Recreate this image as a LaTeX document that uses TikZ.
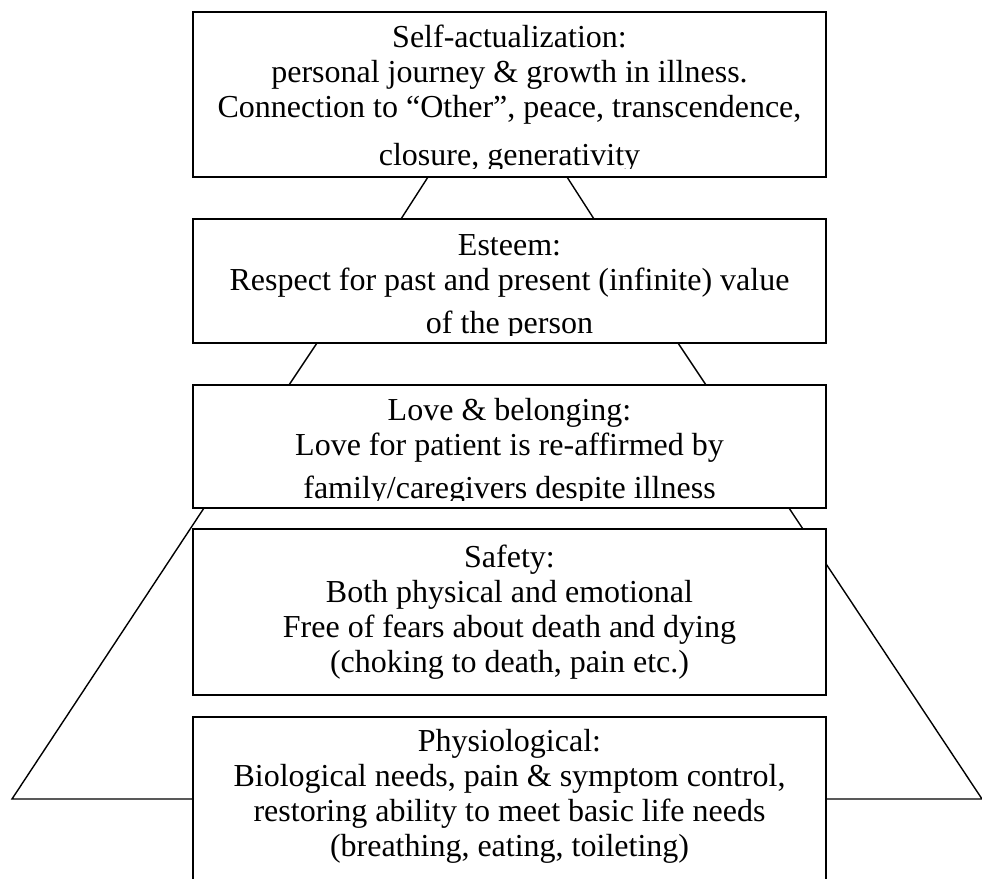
\documentclass[tikz,border=0pt]{standalone}
\usepackage{fontspec}
\setmainfont{Liberation Serif}
\begin{document}
\begin{tikzpicture}[x=1pt,y=-1pt,
  box/.style={draw, line width=1.8pt, fill=white, inner sep=0pt, outer sep=0pt, minimum width=633pt},
  edge/.style={line width=1.4pt},
  txt/.style={anchor=base, inner sep=0pt, font=\fontsize{32}{36}\selectfont}]
\useasboundingbox (0,0) rectangle (982,878);
\fill[white] (0,0) rectangle (982,878);
% boxes (geometry only)
\node[box, minimum height=165pt] (b1) at (509.5,94.5) {};
\node[box, minimum height=124pt] (b2) at (509.5,281) {};
\node[box, minimum height=123pt] (b3) at (509.5,446.5) {};
% big trapezoid behind lower boxes
\coordinate (bl) at (12,799);
\coordinate (br) at (982,799);
\draw[edge, line join=miter] ([xshift=279.5pt]b3.south) -- (br) -- (bl) -- ([xshift=-305.5pt]b3.south);
\node[box, minimum height=166pt] (b4) at (509.5,612) {};
\node[box, minimum height=170pt] (b5) at (509.5,802) {};
% connectors between upper boxes
\draw[edge] ([xshift=-81.5pt]b1.south) -- ([xshift=-108.5pt]b2.north);
\draw[edge] ([xshift=57.5pt]b1.south) -- ([xshift=84.5pt]b2.north);
\draw[edge] ([xshift=-192.5pt]b2.south) -- ([xshift=-220.5pt]b3.north);
\draw[edge] ([xshift=168.5pt]b2.south) -- ([xshift=196.5pt]b3.north);
% texts
\begin{scope}
\clip (193,12) rectangle (826,168);
\node[txt] (t1a) at (509.5,47) {Self-actualization:};
\node[txt] (t1b) at (509.5,82) {personal journey \& growth in illness.};
\node[txt] (t1c) at (509.5,117) {Connection to “Other”, peace, transcendence,};
\node[txt] (t1d) at (509.5,165) {closure, generativity};
\end{scope}
\begin{scope}
\clip (193,219) rectangle (826,335);
\node[txt] (t2a) at (509.5,255) {Esteem:};
\node[txt] (t2b) at (509.5,290) {Respect for past and present (infinite) value};
\node[txt] (t2c) at (509.5,333) {of the person};
\end{scope}
\begin{scope}
\clip (193,385) rectangle (826,500);
\node[txt] (t3a) at (509.5,420) {Love \& belonging:};
\node[txt] (t3b) at (509.5,455) {Love for patient is re-affirmed by};
\node[txt] (t3c) at (509.5,498) {family/caregivers despite illness};
\end{scope}
\node[txt] (t4a) at (509.5,567) {Safety:};
\node[txt] (t4b) at (509.5,602) {Both physical and emotional};
\node[txt] (t4c) at (509.5,637) {Free of fears about death and dying};
\node[txt] (t4d) at (509.5,672) {(choking to death, pain etc.)};
\node[txt] (t5a) at (509.5,751) {Physiological:};
\node[txt] (t5b) at (509.5,786) {Biological needs, pain \& symptom control,};
\node[txt] (t5c) at (509.5,821) {restoring ability to meet basic life needs};
\node[txt] (t5d) at (509.5,856) {(breathing, eating, toileting)};
\end{tikzpicture}
\end{document}
